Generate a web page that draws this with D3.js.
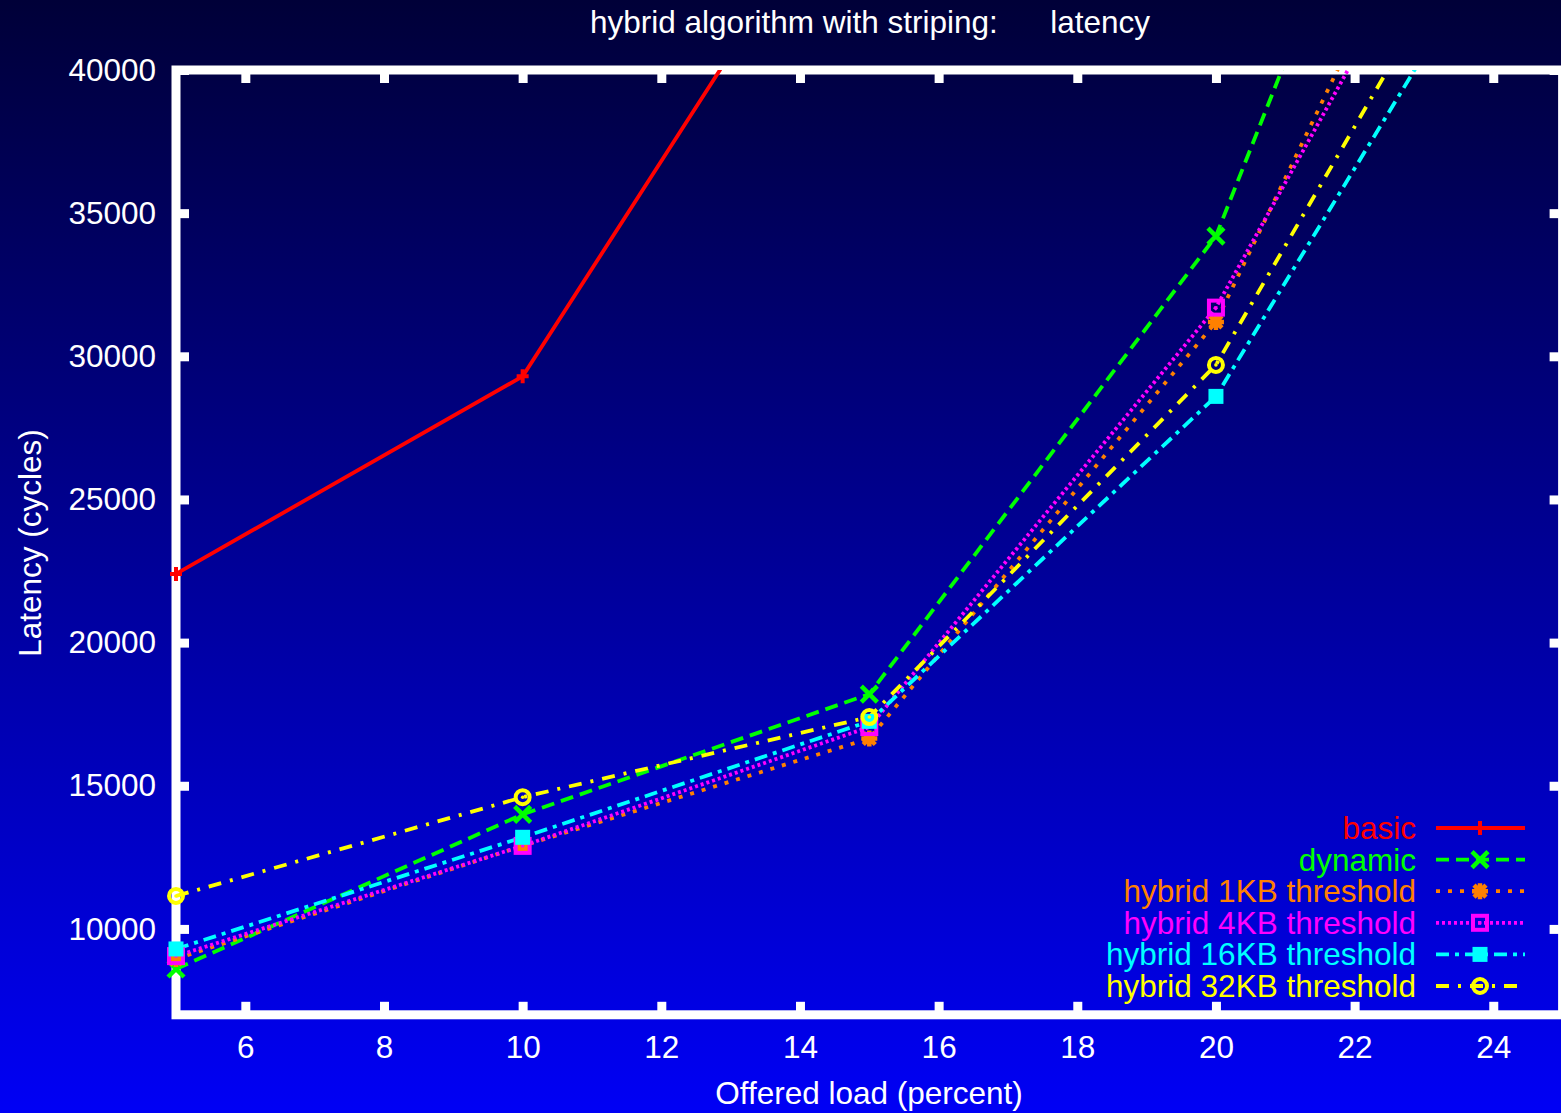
<!DOCTYPE html>
<html>
<head>
<meta charset="utf-8">
<script src="https://cdn.jsdelivr.net/npm/d3@7"></script>
<style>
  html, body { margin: 0; padding: 0; background: #000060; overflow: hidden; }
  svg { display: block; font-family: "Liberation Sans", Arial, Helvetica, sans-serif; }
</style>
</head>
<body>
<svg id="chart" width="1561" height="1113"></svg>
<script>
// Offered load (percent) at which each run was measured
const loads = [5, 10, 15, 20, 25];

// Latency in cycles for each configuration
const basic    = [22400, 29300, 48100];
const dynamic  = [8600, 14000, 18200, 34200, 64700];
const hyb1KB   = [8950, 12900, 16650, 31200, 56300];
const hyb4KB   = [9050, 12900, 17050, 31700, 53500];
const hyb16KB  = [9300, 13200, 17250, 28600, 48500];
const hyb32KB  = [11150, 14600, 17400, 29700, 50500];

const seriesNames = ["basic", "dynamic", "hybrid 1KB threshold", "hybrid 4KB threshold",
                     "hybrid 16KB threshold", "hybrid 32KB threshold"];
const seriesValues = [basic, dynamic, hyb1KB, hyb4KB, hyb16KB, hyb32KB];

const xTicks = [6, 8, 10, 12, 14, 16, 18, 20, 22, 24];
const yTicks = [10000, 15000, 20000, 25000, 30000, 35000, 40000];

const styles = [
  { color: "#ff0000", dash: null,          marker: "plus" },
  { color: "#00ff00", dash: "13,7",        marker: "cross" },
  { color: "#ff8000", dash: "4,8",         marker: "star" },
  { color: "#ff00ff", dash: "3,3",         marker: "box" },
  { color: "#00ffff", dash: "13,6,4,6",    marker: "fbox" },
  { color: "#ffff00", dash: "13,9,3,9",    marker: "circle" }
];

const W = 1561, H = 1113;
const FONT = 31.5;
const svg = d3.select("#chart");

// background gradient
const defs = svg.append("defs");
const grad = defs.append("linearGradient").attr("id", "bg")
  .attr("x1", 0).attr("y1", 0).attr("x2", 0).attr("y2", 1);
grad.append("stop").attr("offset", "0%").attr("stop-color", "#000038");
grad.append("stop").attr("offset", "100%").attr("stop-color", "#0000f5");
svg.append("rect").attr("width", W).attr("height", H).attr("fill", "url(#bg)");

const x = d3.scaleLinear().domain([5, 25]).range([176, 1562.6]);
const y = d3.scaleLinear().domain([7000, 40000]).range([1014.8, 70]);

defs.append("clipPath").attr("id", "plotclip")
  .append("rect")
  .attr("x", x(5)).attr("y", y(40000))
  .attr("width", x(25) - x(5)).attr("height", y(7000) - y(40000));

// title
svg.append("text")
  .attr("x", 870).attr("y", 33)
  .attr("text-anchor", "middle")
  .attr("fill", "#ffffff").attr("font-size", FONT)
  .style("white-space", "pre")
  .text("hybrid algorithm with striping:      latency");

// axis labels
svg.append("text")
  .attr("x", 869).attr("y", 1104)
  .attr("text-anchor", "middle")
  .attr("fill", "#ffffff").attr("font-size", FONT)
  .text("Offered load (percent)");

svg.append("text")
  .attr("transform", "translate(41,543) rotate(-90)")
  .attr("text-anchor", "middle")
  .attr("fill", "#ffffff").attr("font-size", FONT)
  .text("Latency (cycles)");

// axes with inward ticks, mirrored on opposite sides
const tickLen = 13;
const axisStyle = g => {
  g.select(".domain").remove();
  g.selectAll(".tick line").attr("stroke", "#ffffff").attr("stroke-width", 9);
  g.selectAll(".tick text").attr("fill", "#ffffff").attr("font-size", FONT)
    .attr("font-family", "Liberation Sans, Arial, sans-serif");
};

svg.append("g")
  .attr("transform", `translate(0,${y(7000)})`)
  .call(d3.axisBottom(x).tickValues(xTicks).tickSize(-tickLen).tickPadding(21).tickFormat(d3.format("d")))
  .call(axisStyle);
svg.append("g")
  .attr("transform", `translate(0,${y(40000)})`)
  .call(d3.axisTop(x).tickValues(xTicks).tickSize(-tickLen).tickFormat(""))
  .call(axisStyle);
svg.append("g")
  .attr("transform", `translate(${x(5)},0)`)
  .call(d3.axisLeft(y).tickValues(yTicks).tickSize(-tickLen).tickPadding(20).tickFormat(d3.format("d")))
  .call(axisStyle);
svg.append("g")
  .attr("transform", `translate(${x(25)},0)`)
  .call(d3.axisRight(y).tickValues(yTicks).tickSize(-tickLen).tickFormat(""))
  .call(axisStyle);

// frame
svg.append("rect")
  .attr("x", x(5)).attr("y", y(40000))
  .attr("width", x(25) - x(5)).attr("height", y(7000) - y(40000))
  .attr("fill", "none").attr("stroke", "#ffffff").attr("stroke-width", 9);

// marker drawing
function drawMarker(g, type, cx, cy, color) {
  const s = 8;
  if (type === "plus") {
    g.append("path").attr("d", `M${cx - 6},${cy}H${cx + 6}M${cx},${cy - 7}V${cy + 7}`)
      .attr("stroke", color).attr("stroke-width", 4).attr("fill", "none");
  } else if (type === "cross") {
    g.append("path").attr("d", `M${cx - s},${cy - s}L${cx + s},${cy + s}M${cx - s},${cy + s}L${cx + s},${cy - s}`)
      .attr("stroke", color).attr("stroke-width", 4.5).attr("fill", "none");
  } else if (type === "star") {
    g.append("path").attr("d",
      `M${cx - s},${cy}H${cx + s}M${cx},${cy - s}V${cy + s}` +
      `M${cx - 6},${cy - 6}L${cx + 6},${cy + 6}M${cx - 6},${cy + 6}L${cx + 6},${cy - 6}`)
      .attr("stroke", color).attr("stroke-width", 4.5).attr("fill", "none");
  } else if (type === "box") {
    g.append("rect").attr("x", cx - 7).attr("y", cy - 7).attr("width", 14).attr("height", 14)
      .attr("stroke", color).attr("stroke-width", 4).attr("fill", "none");
    g.append("rect").attr("x", cx - 1.5).attr("y", cy - 1.5).attr("width", 3).attr("height", 3).attr("fill", color);
  } else if (type === "fbox") {
    g.append("rect").attr("x", cx - 7.5).attr("y", cy - 7.5).attr("width", 15).attr("height", 15)
      .attr("fill", color);
  } else if (type === "circle") {
    g.append("circle").attr("cx", cx).attr("cy", cy).attr("r", 7)
      .attr("stroke", color).attr("stroke-width", 4).attr("fill", "none");
    g.append("circle").attr("cx", cx).attr("cy", cy).attr("r", 1.8).attr("fill", color);
  }
}

// data lines and points
const plot = svg.append("g").attr("clip-path", "url(#plotclip)");
const line = d3.line().x((d, i) => x(loads[i])).y(d => y(d));

seriesValues.forEach((vals, k) => {
  const st = styles[k];
  plot.append("path")
    .datum(vals)
    .attr("d", line)
    .attr("fill", "none")
    .attr("stroke", st.color)
    .attr("stroke-width", 3.8)
    .attr("stroke-dasharray", st.dash);
});
seriesValues.forEach((vals, k) => {
  const st = styles[k];
  vals.forEach((v, i) => {
    if (v <= 40000) drawMarker(svg, st.marker, x(loads[i]), y(v), st.color);
  });
});

// legend
const legendY0 = 828, legendDy = 31.6;
seriesNames.forEach((name, k) => {
  const st = styles[k];
  const ly = legendY0 + k * legendDy;
  svg.append("text")
    .attr("x", 1416).attr("y", ly + 11)
    .attr("text-anchor", "end")
    .attr("fill", st.color).attr("font-size", FONT)
    .text(name);
  svg.append("line")
    .attr("x1", 1436).attr("x2", 1525).attr("y1", ly).attr("y2", ly)
    .attr("stroke", st.color).attr("stroke-width", 3.8)
    .attr("stroke-dasharray", st.dash);
  drawMarker(svg, st.marker, 1480, ly, st.color);
});
</script>
</body>
</html>
